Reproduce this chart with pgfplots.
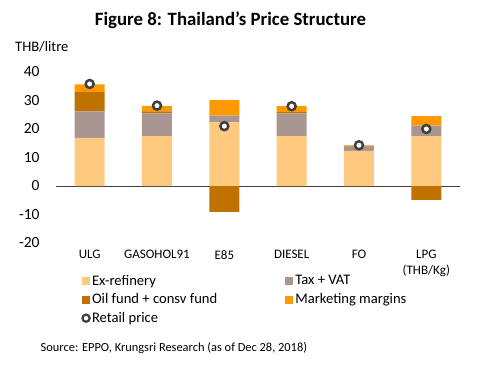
\documentclass[border=0pt]{standalone}
\usepackage{fontspec}
\setmainfont{Carlito}
\usepackage{pgfplots}
\pgfplotsset{compat=1.18}
\definecolor{exref}{HTML}{FFCA80}
\definecolor{tax}{HTML}{A99592}
\definecolor{oil}{HTML}{BF7200}
\definecolor{mkt}{HTML}{FF9900}
\definecolor{ring}{HTML}{404040}
\begin{document}
\begin{tikzpicture}
\path[use as bounding box] (0pt,0pt) rectangle (477pt,-365pt);
\node[font=\fontsize{18.8}{20}\selectfont\bfseries] at (230.5pt,-20pt) {Figure 8: Thailand’s Price Structure};
\node[font=\fontsize{14.5}{15}\selectfont, anchor=west, inner sep=0pt] at (15pt,-47pt) {THB/litre};
\node[font=\fontsize{12.4}{13}\selectfont, anchor=west, inner sep=0pt] at (40.5pt,-348pt) {Source: EPPO, Krungsri Research (as of Dec 28, 2018)};
\begin{axis}[
  at={(56pt,-243pt)}, anchor=south west,
  scale only axis, width=404pt, height=171pt,
  xmin=-0.5, xmax=5.5, ymin=-20, ymax=40,
  ybar stacked, bar width=30pt,
  axis line style={draw=none}, tick style={draw=none},
  xtick={0,1,2,3,4,5},
  xticklabels={ULG,GASOHOL91,E85,DIESEL,FO,{LPG\\(THB/Kg)}},
  x tick label style={font=\fontsize{13}{15.5}\selectfont, align=center, anchor=north, yshift=-4pt},
  ytick={-20,-10,0,10,20,30,40},
  y tick label style={font=\fontsize{15.5}{17}\selectfont, xshift=-13pt},
  /pgf/number format/assume math mode=true,
  extra y ticks={0}, extra y tick labels={},
  extra y tick style={grid=major, major grid style={draw=ring, line width=1pt}},
]
\addplot[fill=exref, draw=none] coordinates {(0,16.9) (1,17.5) (2,22.4) (3,17.5) (4,12.3) (5,17.5)};
\addplot[fill=tax, draw=none] coordinates {(0,9.3) (1,8.0) (2,2.3) (3,8.0) (4,1.5) (5,3.7)};
\addplot[fill=oil, draw=none] coordinates {(0,6.7) (1,0.7) (2,0) (3,0.4) (4,0.4) (5,0)};
\addplot[fill=mkt, draw=none] coordinates {(0,2.8) (1,1.8) (2,5.4) (3,2.1) (4,0.05) (5,3.3)};
\end{axis}
\begin{axis}[
  at={(56pt,-243pt)}, anchor=south west,
  scale only axis, width=404pt, height=171pt,
  xmin=-0.5, xmax=5.5, ymin=-20, ymax=40,
  axis lines=none, ticks=none,
  legend columns=2,
  legend cell align=left,
  legend style={draw=none, fill=none, inner sep=0pt, at={(0.064,-0.175)}, anchor=north west,
    font=\fontsize{14.6}{16}\selectfont,
    /tikz/every even column/.append style={column sep=66pt},
    row sep=3pt},
  legend image code/.code={\fill[#1, draw=none] (0pt,-4pt) rectangle (8pt,4pt);},
]
\addplot[ybar, bar width=30pt, bar shift=0pt, fill=oil, draw=none, forget plot] coordinates {(2,-9.1) (5,-4.9)};
\addlegendimage{fill=exref}\addlegendentry{Ex-refinery}
\addlegendimage{fill=tax}\addlegendentry{Tax + VAT}
\addlegendimage{fill=oil}\addlegendentry{Oil fund + consv fund}
\addlegendimage{fill=mkt}\addlegendentry{Marketing margins}
\addplot[only marks, mark=*, mark size=4pt, mark options={fill=white, draw=ring, line width=2.5pt},
  legend image code/.code={\draw[mark size=3.6pt, mark options={fill=white, draw=ring, line width=2.2pt}] plot coordinates {(4pt,0pt)};}]
  coordinates {(0,35.8) (1,28.2) (2,21.0) (3,28.0) (4,14.3) (5,20.0)};
\addlegendentry{Retail price}
\end{axis}
\end{tikzpicture}
\end{document}
